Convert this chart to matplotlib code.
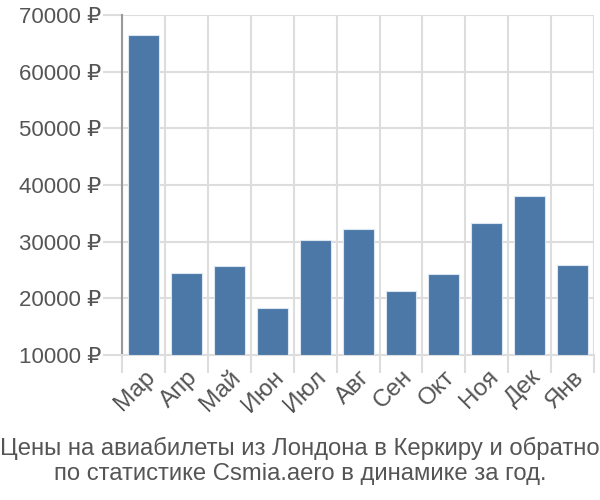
import matplotlib
matplotlib.use("Agg")
import matplotlib.pyplot as plt
import numpy as np

months = ["Мар", "Апр", "Май", "Июн", "Июл", "Авг", "Сен", "Окт", "Ноя", "Дек", "Янв"]
prices = [66470, 24400, 25710, 18230, 30230, 32170, 21300, 24300, 33350, 38070, 25940]
yticks = [10000, 20000, 30000, 40000, 50000, 60000, 70000]
ytick_labels = [f"{v} ₽" for v in yticks]
title = "Цены на авиабилеты из Лондона в Керкиру и обратно\nпо статистике Csmia.aero в динамике за год."

plt.rcParams['font.family'] = ['Liberation Sans', 'DejaVu Sans']

fig = plt.figure(figsize=(6, 5), dpi=100)
ax = fig.add_axes([0.2033, 0.29, 0.787, 0.68])

x = np.arange(len(months))
ax.bar(x, [p - 10000 for p in prices], bottom=10000, width=0.72,
       color="#4C78A8", edgecolor="#dce6f0", linewidth=0.8, zorder=3)

ax.set_xlim(-0.5, len(months) - 0.5)
ax.set_ylim(10000, 70000)

ax.set_yticks(yticks)
ax.set_yticklabels(ytick_labels)
ax.set_xticks(x)
ax.set_xticklabels(months, rotation=45, ha="right", rotation_mode="anchor")
ax.set_xticks(np.arange(-0.5, len(months), 1.0), minor=True)

ax.tick_params(axis="y", which="major", length=14, width=1.5, color="#dddddd",
               labelsize=16, labelcolor="#555555", pad=1)
ax.tick_params(axis="x", which="major", length=0, labelsize=17.5, labelcolor="#555555", pad=8)
ax.tick_params(axis="x", which="minor", length=13, width=1.5, color="#dddddd")

ax.grid(axis="y", which="major", color="#dddddd", linewidth=1.5, zorder=0)
ax.grid(axis="x", which="minor", color="#dddddd", linewidth=1.5, zorder=0)

for s in ["top", "right"]:
    ax.spines[s].set_visible(False)
ax.spines["bottom"].set_color("#dddddd")
ax.spines["bottom"].set_linewidth(1.5)
ax.spines["left"].set_color("#999999")
ax.spines["left"].set_linewidth(1.5)

fig.text(0.5, 0.078, title, ha="center", va="center", fontsize=17.2,
         color="#555555", linespacing=1.15)

fig.savefig("out.png", dpi=100)
